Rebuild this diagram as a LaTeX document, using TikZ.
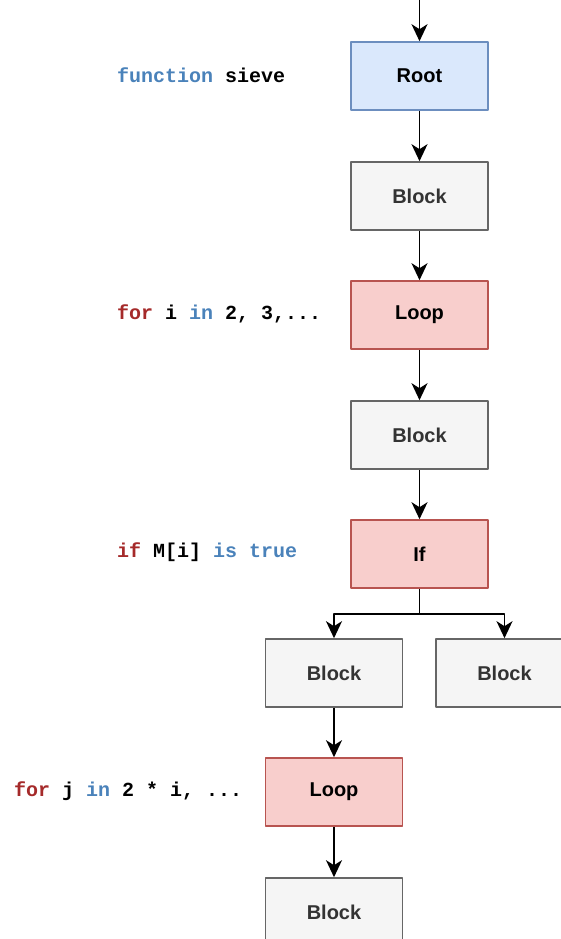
\documentclass[tikz,border=0pt]{standalone}
\usepackage{fontspec}
\setmainfont{Liberation Sans}
\newfontfamily\codefont{Liberation Mono}
\usetikzlibrary{arrows.meta}
\definecolor{rootfill}{HTML}{DAE8FC}
\definecolor{rootline}{HTML}{6C8EBF}
\definecolor{loopfill}{HTML}{F8CECC}
\definecolor{loopline}{HTML}{B85450}
\definecolor{blockfill}{HTML}{F5F5F5}
\definecolor{blockline}{HTML}{666666}
\definecolor{blocktext}{HTML}{333333}
\definecolor{kwblue}{HTML}{4A82BA}
\definecolor{kwred}{HTML}{A52A2A}
\newcommand{\kwb}[1]{\textcolor{kwblue}{#1}}
\newcommand{\kwr}[1]{\textcolor{kwred}{#1}}
\begin{document}
\begin{tikzpicture}[x=1pt,y=-1pt,>={Stealth[length=17pt,width=16pt,inset=5pt]},line join=round,
  box/.style={minimum width=137pt,minimum height=68pt,line width=1.6pt,inner sep=0pt,font=\fontsize{20}{24}\selectfont\bfseries},
  rootbox/.style={box,draw=rootline,fill=rootfill},
  loopbox/.style={box,draw=loopline,fill=loopfill},
  blockbox/.style={box,draw=blockline,fill=blockfill,text=blocktext},
  code/.style={anchor=west,inner sep=0pt,font=\fontsize{20}{24}\selectfont\codefont\bfseries},
  edge/.style={->,line width=1.8pt}]
  \useasboundingbox (0,0) rectangle (561,939);
  \clip (0,0) rectangle (561,939);
  % main column
  \coordinate (top) at (419.5,0);
  \node[rootbox] (root) at (419.5,76) {Root};
  \node[blockbox] (block1) at (419.5,196) {Block};
  \node[loopbox] (loop1) at (419.5,315) {Loop};
  \node[blockbox] (block2) at (419.5,435) {Block};
  \node[loopbox] (if) at (419.5,554) {If};
  % branches
  \node[blockbox] (then) at (334,673) {Block};
  \node[blockbox] (else) at (504.5,673) {Block};
  \node[loopbox] (loop2) at (334,792) {Loop};
  \node[blockbox] (block3) at (334,912) {Block};
  % code
  \node[code] (fn) at (117,75) {\kwb{function} sieve};
  \node[code] (fori) at (117,314) {\kwr{for} i \kwb{in} 2, 3,...};
  \node[code] (ifm) at (117,552) {\kwr{if} M[i] \kwb{is} \kwb{true}};
  \node[code] (forj) at (14,791) {\kwr{for} j \kwb{in} 2 * i, ...};
  % edges
  \draw[edge] (top) -- (root);
  \draw[edge] (root) -- (block1);
  \draw[edge] (block1) -- (loop1);
  \draw[edge] (loop1) -- (block2);
  \draw[edge] (block2) -- (if);
  \draw[edge] (if.south) -- ++(0,25) -| (then.north);
  \draw[edge] (if.south) -- ++(0,25) -| (else.north);
  \draw[edge] (then) -- (loop2);
  \draw[edge] (loop2) -- (block3);
\end{tikzpicture}
\end{document}
